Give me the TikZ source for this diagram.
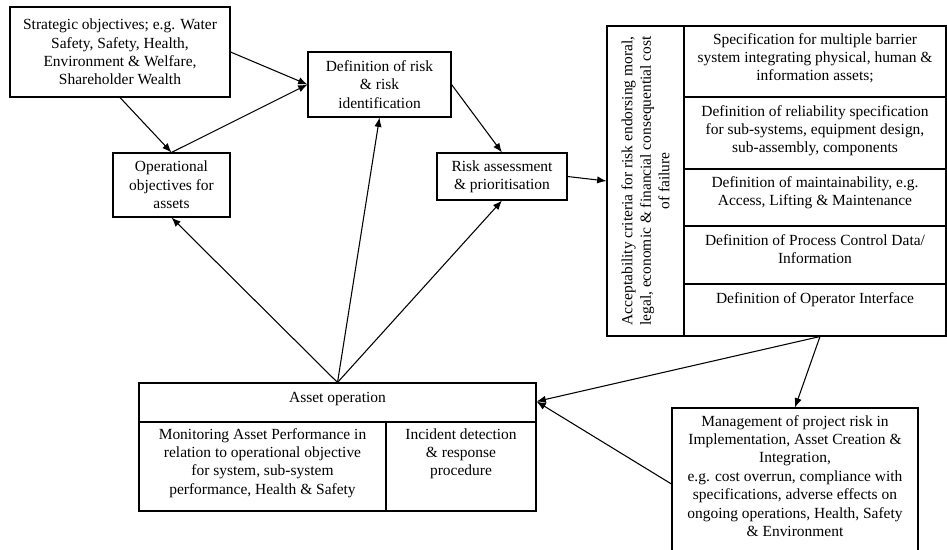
\documentclass[tikz,border=0pt]{standalone}
\usepackage{fontspec}
\setmainfont{Liberation Serif}
\usetikzlibrary{arrows.meta,calc}
\begin{document}
\begin{tikzpicture}[x=0.75pt,y=-0.75pt,
  every node/.style={font=\fontsize{11.6}{13.8}\selectfont},
  box/.style={draw,line width=0.8pt,inner sep=0pt,align=center},
  txt/.style={inner sep=0pt,align=center,anchor=north},
  link/.style={line width=0.8pt,-{Latex[length=7pt,width=5.5pt]}},
  rule/.style={line width=0.8pt}]
\useasboundingbox (0,0) rectangle (947,550);

% upper chain of boxes
\node[box,minimum width=165pt,minimum height=67.5pt] (A) at (120,52)
  {Strategic objectives; e.g. Water\\Safety, Safety, Health,\\Environment \& Welfare,\\Shareholder Wealth};
\node[box,minimum width=107.25pt,minimum height=48.75pt] (B) at (379.5,84.5)
  {Definition of risk\\\& risk\\identification};
\node[box,minimum width=87.75pt,minimum height=48pt] (C) at (171.5,185)
  {Operational\\objectives for\\assets};
\node[box,minimum width=97.5pt,minimum height=35.25pt] (D) at (502,176.5)
  {Risk assessment\\\& prioritisation};

% specification table
\node[box,minimum width=254.25pt,minimum height=232.5pt] (E) at (776.5,181) {};
\draw[rule] (684,26) -- (684,336);
\draw[rule] (684,97) -- (946,97);
\draw[rule] (684,169) -- (946,169);
\draw[rule] (684,226) -- (946,226);
\draw[line width=1.5pt] (684,284) -- (946,284);
\node[rotate=90,inner sep=0pt,align=center] (Ecrit) at (645.5,181)
  {Acceptability criteria for risk endorsing moral,\\legal, economic \& financial consequential cost\\of failure};
\node[txt] (E1) at (815,33) {Specification for multiple barrier\\system integrating physical, human \&\\information assets;};
\node[txt] (E2) at (815,105) {Definition of reliability specification\\for sub-systems, equipment design,\\sub-assembly, components};
\node[txt] (E3) at (815,176) {Definition of maintainability, e.g.\\Access, Lifting \& Maintenance};
\node[txt] (E4) at (815,234) {Definition of Process Control Data/\\Information};
\node[txt] (E5) at (815,292) {Definition of Operator Interface};

% asset operation
\node[box,minimum width=297.75pt,minimum height=96pt] (F) at (337.5,447) {};
\draw[rule] (139,422) -- (536,422);
\draw[rule] (386,422) -- (386,511);
\node[inner sep=0pt] (Ftitle) at (337.5,399) {Asset operation};
\node[txt] (F1) at (262.5,428) {Monitoring Asset Performance in\\relation to operational objective\\for system, sub-system\\performance, Health \& Safety};
\node[txt] (F2) at (461,428) {Incident detection\\\& response\\procedure};

% project risk management
\node[box,minimum width=184.5pt,minimum height=114pt] (G) at (795,484) {};
\node[txt] (G1) at (795,415) {Management of project risk in\\Implementation, Asset Creation \&\\Integration,\\ e.g. cost overrun, compliance with\\specifications, adverse effects on\\ongoing operations, Health, Safety\\\& Environment};

% connector end points
\coordinate (Eout) at ($(E.south)+(43.5,0)$);
\coordinate (Fin) at ($(F.north east)+(0,19)$);

% connectors
\draw[link] (A.east) -- (B.west);
\draw[link] (A.south) -- (C.north);
\draw[link] (C.north) -- (B.west);
\draw[link] (B.east) -- (D.north);
\draw[link] (D.east) -- (E.west);
\draw[link] (F.north) -- (C.south);
\draw[link] (F.north) -- (B.south);
\draw[link] (F.north) -- (D.south);
\draw[link] (Eout) -- (Fin);
\draw[link] (Eout) -- (G.north);
\draw[link] (G.west) -- (Fin);
\end{tikzpicture}
\end{document}
